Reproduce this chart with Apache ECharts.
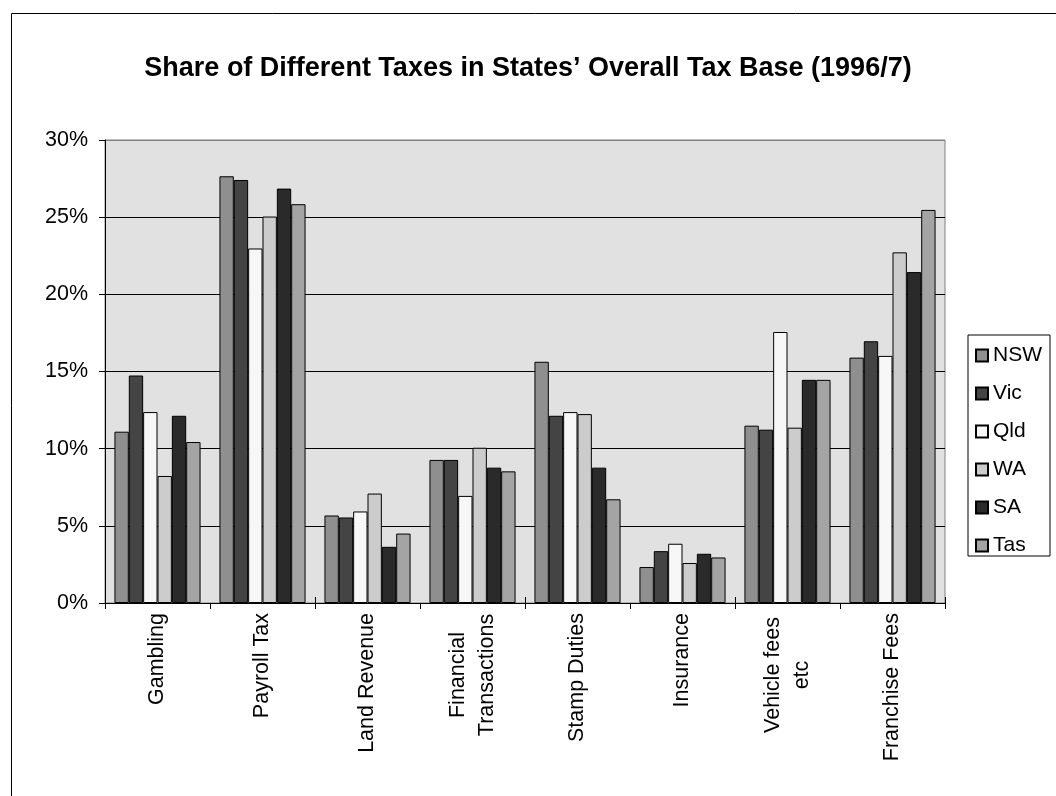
<!DOCTYPE html>
<html><head><meta charset="utf-8">
<script src="https://cdn.jsdelivr.net/npm/echarts@6/dist/echarts.min.js"></script>
<style>html,body{margin:0;padding:0;background:#fff}#c{width:1056px;height:796px}</style>
</head><body><div id="c"></div>
<script>
const categories = ['Gambling', 'Payroll Tax', 'Land Revenue', 'Financial\nTransactions', 'Stamp Duties', 'Insurance', 'Vehicle fees\netc', 'Franchise Fees'];
const states = ['NSW', 'Vic', 'Qld', 'WA', 'SA', 'Tas'];
const nsw = [11.1, 27.65, 5.67, 9.27, 15.63, 2.33, 11.49, 15.9];
const vic = [14.74, 27.41, 5.54, 9.27, 12.13, 3.36, 11.23, 16.96];
const qld = [12.37, 22.97, 5.93, 6.94, 12.37, 3.84, 17.56, 16.01];
const wa = [8.23, 25.04, 7.09, 10.06, 12.24, 2.59, 11.36, 22.72];
const sa = [12.13, 26.85, 3.64, 8.77, 8.77, 3.19, 14.46, 21.44];
const tas = [10.43, 25.84, 4.50, 8.53, 6.72, 2.95, 14.46, 25.47];
const colors = ['#8f8f8f', '#444444', '#f7f7f7', '#cccccc', '#2a2a2a', '#a4a4a4'];
const yMin = 0, yMax = 30, yStep = 5;

const FONT = '"Liberation Sans", Arial, sans-serif';
const seriesData = [nsw, vic, qld, wa, sa, tas];
const chart = echarts.init(document.getElementById('c'), null, {renderer: 'canvas'});
chart.setOption({
  animation: false,
  backgroundColor: '#fff',
  textStyle: {fontFamily: FONT, color: '#000'},
  title: {
    text: 'Share of Different Taxes in States\u2019 Overall Tax Base (1996/7)',
    left: 'center', top: 50,
    textStyle: {fontFamily: FONT, fontSize: 27, fontWeight: 'bold', color: '#000'}
  },
  graphic: [{
    type: 'rect', z: -10, silent: true,
    shape: {x: 11.5, y: 13.5, width: 1100, height: 900},
    style: {fill: 'none', stroke: '#000', lineWidth: 1}
  }],
  legend: {
    orient: 'vertical', left: 968, top: 335,
    data: states, icon: 'rect', itemWidth: 12, itemHeight: 12, itemGap: 17,
    padding: [10, 8, 0, 7],
    borderColor: '#000', borderWidth: 1, backgroundColor: '#fff',
    textStyle: {fontFamily: FONT, fontSize: 21, color: '#000'}
  },
  grid: {
    left: 105, right: 111, top: 140, bottom: 193,
    show: true, backgroundColor: '#e1e1e1', borderColor: '#808080', borderWidth: 1
  },
  xAxis: [{
    type: 'category', data: categories,
    axisLine: {lineStyle: {color: '#000', width: 1}},
    axisTick: {show: true, length: 6, lineStyle: {color: '#000'}},
    axisLabel: {
      rotate: 90, margin: 10, fontSize: 21.5, color: '#000', fontFamily: FONT, interval: 0,
      formatter: v => v.indexOf('\n') >= 0 ? v.split('\n').map(s => '{c|' + s + '}').join('\n') : v,
      rich: {c: {width: 124, align: 'center', fontSize: 21.5, lineHeight: 29, color: '#000', fontFamily: FONT}}
    },
    splitLine: {show: false}
  }, {
    type: 'category', data: categories, position: 'bottom',
    axisLine: {show: false},
    axisTick: {show: true, inside: true, length: 6, lineStyle: {color: '#000'}},
    axisLabel: {show: false}, splitLine: {show: false}
  }],
  yAxis: {
    type: 'value', min: yMin, max: yMax, interval: yStep,
    axisLine: {show: true, lineStyle: {color: '#000', width: 1}},
    axisTick: {show: true, length: 6, lineStyle: {color: '#000'}},
    axisLabel: {formatter: '{value}%', fontSize: 21.5, color: '#000', margin: 17, fontFamily: FONT},
    splitLine: {show: true, lineStyle: {color: ['#000', '#000', '#000', '#000', '#000', '#000', '#808080'], width: 1}}
  },
  series: states.map((s, i) => ({
    name: s, type: 'bar', xAxisIndex: 0,
    data: seriesData[i],
    barGap: '0%', barCategoryGap: '18%',
    itemStyle: {color: colors[i], borderColor: '#000', borderWidth: 1}
  }))
});
</script></body></html>
